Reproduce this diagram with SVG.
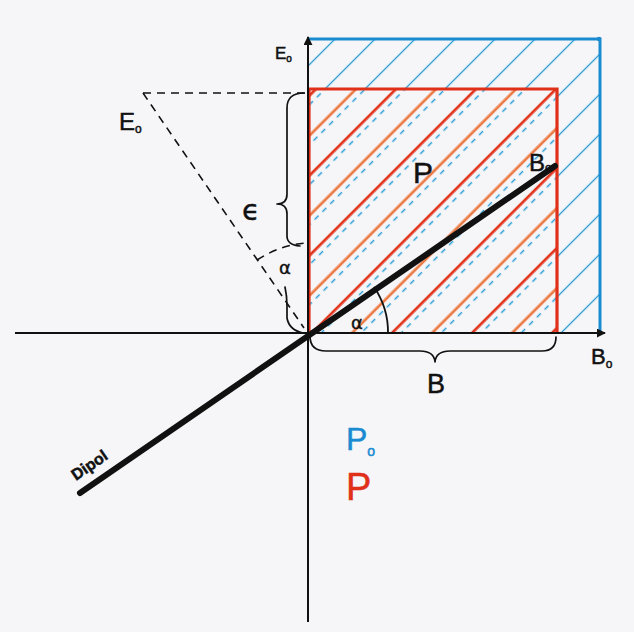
<svg xmlns="http://www.w3.org/2000/svg" width="634" height="632" viewBox="0 0 634 632">
<style>
.ax{stroke:#111;stroke-width:2;fill:none}
.dash{stroke:#111;stroke-width:1.6;fill:none;stroke-dasharray:8 6}
.br{stroke:#111;stroke-width:1.7;fill:none;stroke-linecap:round;stroke-linejoin:round}
.t{font-family:"Liberation Sans","DejaVu Sans",sans-serif;fill:#111;stroke:#111;stroke-width:0.5}
.g{font-family:"DejaVu Sans","Liberation Sans",sans-serif;fill:#111;stroke:#111;stroke-width:0.4}
</style>
<defs>
<pattern id="hb" patternUnits="userSpaceOnUse" width="28.284" height="20" patternTransform="translate(-6 0) rotate(45)">
<rect x="13.5" y="0" width="1.3" height="20" fill="#2f9fd6"/>
</pattern>
<pattern id="hbd" patternUnits="userSpaceOnUse" width="28.284" height="11" patternTransform="translate(-6 0) rotate(45)">
<rect x="13.5" y="0" width="1.5" height="5.5" fill="#35a3d8"/>
</pattern>
<pattern id="hr" patternUnits="userSpaceOnUse" width="56.569" height="20" patternTransform="translate(-15 0) rotate(45)">
<rect x="12.8" y="0" width="2.7" height="20" fill="#e0341c"/>
<rect x="41.1" y="0" width="2.7" height="20" fill="#ec7a44"/>
</pattern>
<marker id="ah" viewBox="0 0 10 10" refX="9" refY="5" markerWidth="4.5" markerHeight="4.5" orient="auto" markerUnits="strokeWidth">
<path d="M0 0 L10 5 L0 10 Z" fill="#111"/>
</marker>
</defs>
<rect width="634" height="632" fill="#f6f6f8"/>
<g id="blue-area">
<rect x="308" y="39" width="292" height="294" fill="url(#hb)"/>
</g>
<g id="red-area">
<rect x="308" y="89" width="249" height="244" fill="#f6f6f8"/>
<rect x="308" y="89" width="249" height="244" fill="url(#hbd)"/>
<rect x="308" y="89" width="249" height="244" fill="url(#hr)"/>
</g>
<g id="borders">
<path d="M308 39 L600 39 L600 333" stroke="#1a8bd0" stroke-width="3" fill="none"/>
<circle cx="599" cy="39" r="2.2" fill="#1a8bd0"/>
<path d="M309 333 L309 89 L557 89 L557 333" stroke="#e0301a" stroke-width="3.2" fill="none"/>
</g>
<g id="connectors">
<line class="ax" x1="15" y1="333" x2="605" y2="333" marker-end="url(#ah)"/>
<line class="ax" x1="308" y1="622" x2="308" y2="37" marker-end="url(#ah)"/>
<line x1="80" y1="493" x2="555" y2="166" stroke="#111" stroke-width="6" stroke-linecap="round"/>
<line class="dash" x1="143" y1="93" x2="308" y2="93"/>
<line class="dash" x1="143" y1="93" x2="304" y2="328"/>
<path class="dash" d="M257 260 Q282 244 308 243"/>
<path d="M388 333 A80 80 0 0 0 374 287" stroke="#111" stroke-width="1.8" fill="none"/>
<path class="br" d="M304 93 Q287 93 287 108 L287 194 Q287 204 277 204 Q287 204 287 214 L287 236 Q287 245 300 246"/>
<path class="br" d="M285 287 Q287 296 287 306 L287 318 Q289 330 303 333"/>
<path class="br" d="M310 336 Q310 351 326 351 L420 351 Q434 351 435 362 Q436 351 450 351 L542 351 Q556 351 556 337"/>
</g>
<g id="labels">
<text class="t" x="275" y="59" font-size="17">E<tspan font-size="10" dy="3">o</tspan></text>
<text class="t" x="119" y="130" font-size="24">E<tspan font-size="12" dy="3">o</tspan></text>
<text class="g" x="242" y="220" font-size="29">ϵ</text>
<text class="g" x="279" y="274" font-size="18">α</text>
<text class="g" x="351" y="329" font-size="18">α</text>
<text class="t" x="413" y="183" font-size="30">P</text>
<text class="t" x="529" y="171" font-size="24">B<tspan font-size="12" dy="1">o</tspan></text>
<text class="t" x="591" y="364" font-size="22">B<tspan font-size="12" dy="4">o</tspan></text>
<text class="t" x="427" y="393" font-size="27">B</text>
<text class="t" x="346" y="450" font-size="32" style="fill:#1a8bd0;stroke:#1a8bd0">P<tspan font-size="14" dy="6">o</tspan></text>
<text class="t" x="346" y="500" font-size="38" style="fill:#e0301a;stroke:#e0301a">P</text>
<text class="t" x="0" y="0" font-size="16" font-weight="bold" transform="translate(76 481) rotate(-34.5)">Dipol</text>
</g>
</svg>
